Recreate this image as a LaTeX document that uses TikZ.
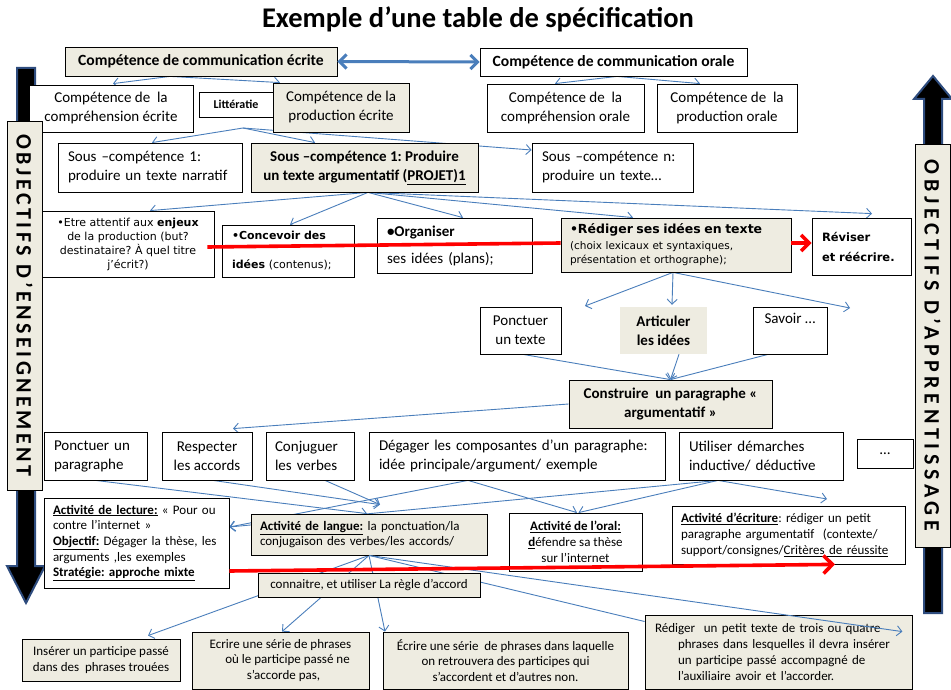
\documentclass[tikz,border=0pt]{standalone}
\usepackage{fontspec}
\setmainfont{Carlito}
\newfontfamily\verd{DejaVu Sans}
\newfontfamily\lblL[LetterSpace=16]{Carlito}
\newfontfamily\lblR[LetterSpace=21]{Carlito}
\usetikzlibrary{arrows.meta}
\definecolor{boxgray}{HTML}{EEECE1}
\definecolor{conblue}{HTML}{4A7EBB}
\definecolor{arredge}{HTML}{2E4C7E}
\definecolor{redline}{HTML}{FF0000}
\pgfdeclarelayer{back}
\pgfdeclarelayer{bg}
\pgfsetlayers{back,bg,main}
\newcommand\szM{\fontsize{15}{19}\selectfont}
\newcommand\szH{\fontsize{15.6}{19}\selectfont}
\newcommand\szS{\fontsize{13}{15.7}\selectfont}
\newcommand\szT{\fontsize{28.5}{32}\selectfont}
\newcommand\szV{\fontsize{11}{14}\selectfont}
\frenchspacing
\tikzset{
  wbox/.style={draw=black, line width=0.8pt, fill=white, inner sep=0pt, align=center, font=\szM},
  gbox/.style={wbox, fill=boxgray},
  lbox/.style={align=left, inner xsep=10pt},
  conn/.style={draw=conblue, line width=0.9pt, -{Straight Barb[length=5pt,width=10pt]}},
  connplain/.style={draw=conblue, line width=0.9pt},
  redln/.style={draw=redline, line width=3.6pt},
  bigarrow/.style={fill=black, draw=arredge, line width=2pt, line join=miter},
  lblbox/.style={draw=black, line width=0.8pt, fill=boxgray, inner sep=0pt}
}
\begin{document}
\begin{tikzpicture}[x=1pt,y=-1pt]
\useasboundingbox (0,0) rectangle (951,690);

% title
\node[font=\szT\bfseries] (title) at (478,19) {Exemple d’une table de spécification};

% top level
\node[gbox, minimum width=272pt, minimum height=29pt, font=\szH\bfseries] (A) at (201,61.5) {Compétence de communication écrite};
\node[wbox, minimum width=267pt, minimum height=28pt, font=\szH\bfseries] (B) at (613.5,62) {Compétence de communication orale};

\node[wbox, minimum width=164pt, minimum height=47pt] (C1) at (111,108.5) {Compétence de~ la\\compréhension écrite};
\node[wbox, minimum width=74pt, minimum height=25pt, font=\fontsize{12}{14}\selectfont\bfseries] (Lit) at (236,104.5) {Littératie};
\node[gbox, minimum width=136pt, minimum height=49pt] (C2) at (341,107.5) {Compétence de la\\production écrite};
\node[wbox, minimum width=157pt, minimum height=48pt] (C3) at (565.5,108) {Compétence de~ la\\compréhension orale};
\node[wbox, minimum width=140pt, minimum height=48pt] (C4) at (727,108) {Compétence de~ la\\production orale};

\node[wbox, lbox, text width=164pt, minimum height=49pt] (S1) at (150,167.5) {Sous –compétence 1:\\produire un texte narratif};
\node[gbox, minimum width=227pt, minimum height=49pt, font=\szM\bfseries] (S2) at (364.5,167.5) {Sous –compétence 1: Produire\\un texte argumentatif (\underline{PROJET)1}};
\node[wbox, lbox, text width=141pt, minimum height=49pt] (Sn) at (612.5,167.5) {Sous –compétence n:\\produire un texte…};

\node[wbox, minimum width=172pt, minimum height=66pt, font=\verd\szV] (E) at (128,244) {•Etre attentif aux \textbf{enjeux}\\de la production (but?\\destinataire? À quel titre\\j’écrit?)};
\node[wbox, lbox, text width=112pt, minimum height=52pt, font=\verd\fontsize{11}{13}\selectfont] (Conc) at (288,251) {\textbf{•Concevoir des}\\[16pt]\textbf{idées} (contenus);};
\node[wbox, lbox, text width=135pt, minimum height=55pt] (Org) at (454.5,245.5) {\textbf{•Organiser}\\[8pt]ses idées (plans);};
\node[gbox, lbox, text width=212pt, inner xsep=9pt, minimum height=54pt, font=\verd\fontsize{10.5}{14}\selectfont] (Red) at (676,245) {{\fontsize{12.5}{15}\selectfont\textbf{•Rédiger ses idées en texte}}\\[2pt](choix lexicaux et syntaxiques,\\présentation et orthographe);};
\node[wbox, lbox, text width=79pt, minimum height=57pt, font=\verd\fontsize{11.5}{20}\selectfont\bfseries] (Rev) at (861.5,246.5) {Réviser\\et réécrire.};

\node[wbox, minimum width=81pt, minimum height=47pt] (PT) at (520.5,330.5) {Ponctuer\\un texte};
\node[fill=boxgray, inner sep=0pt, align=center, minimum width=87pt, minimum height=47pt, font=\szM\bfseries] (Art) at (663.5,330.5) {Articuler\\les idées};
\node[wbox, minimum width=74pt, minimum height=47pt] (Sav) at (790,330.5) {Savoir …\\\strut};

\node[gbox, minimum width=203pt, minimum height=48pt, font=\szM\bfseries] (Cons) at (670.5,404) {Construire~ un paragraphe «\\argumentatif »};

\node[wbox, lbox, text width=83pt, minimum height=48pt] (P1) at (95.5,456) {Ponctuer un\\paragraphe};
\node[wbox, minimum width=90pt, minimum height=48pt] (P2) at (207,456) {Respecter\\les accords};
\node[wbox, lbox, text width=70pt, inner xsep=9pt, minimum height=48pt] (P3) at (310,456) {Conjuguer\\les verbes};
\node[wbox, lbox, text width=276pt, minimum height=48pt] (P4) at (517,456) {Dégager les composantes d’un paragraphe:\\idée principale/argument/ exemple};
\node[wbox, lbox, text width=144pt, minimum height=48pt] (P5) at (761,456) {Utiliser démarches\\inductive/ déductive};
\node[wbox, minimum width=56pt, minimum height=29pt] (P6) at (885,453.5) {…};

\node[wbox, lbox, text width=167pt, inner xsep=9pt, minimum height=90pt, font=\szS] (AL) at (136.5,543) {\underline{\textbf{Activité de lecture:}} « Pour ou\\contre l’internet »\\\underline{\textbf{Objectif:}} Dégager la thèse, les\\arguments ,les exemples\\\underline{\textbf{Stratégie: approche mixte}}};
\node[gbox, lbox, text width=218pt, inner xsep=9pt, minimum height=41pt, font=\szS] (ALa) at (369,534.5) {\underline{\textbf{Activité de langue:}} la ponctuation/la\\conjugaison des verbes/les accords/};
\node[wbox, minimum width=133pt, minimum height=58pt, font=\szS] (AO) at (575.5,542) {\underline{\textbf{Activité de l’oral:}}\\\underline{\textbf{d}}éfendre sa thèse\\sur l’internet};
\node[wbox, lbox, text width=215pt, inner xsep=9pt, minimum height=58pt, font=\szS] (AE) at (788.5,535) {\underline{\textbf{Activité d’écriture}}: rédiger un petit\\paragraphe argumentatif~ (contexte/\\support/consignes/\underline{Critères de réussite}};
\node[gbox, minimum width=222pt, minimum height=24pt, font=\szS] (CR) at (369,585) {connaitre, et utiliser La règle d’accord};

\node[gbox, minimum width=158pt, minimum height=42pt, font=\szS] (B1) at (101,660) {Insérer un participe passé\\dans des~ phrases trouées};
\node[gbox, minimum width=177pt, minimum height=57pt, font=\szS] (B2) at (280.5,660.5) {Ecrire une série de phrases\\\hspace*{14pt}où le participe passé ne\\\hspace*{6pt}s’accorde pas,};
\node[gbox, minimum width=245pt, minimum height=57pt, font=\szS] (B3) at (505.5,660.5) {Écrire une série~ de phrases dans laquelle\\on retrouvera des participes qui\\s’accordent et d’autres non.};
\node[gbox, lbox, text width=247pt, minimum height=74pt, font=\szS] (B4) at (778.5,652) {Rédiger~ un petit texte de trois ou quatre\\\hspace*{23pt}phrases dans lesquelles il devra insérer\\\hspace*{23pt}un participe passé accompagné de\\\hspace*{23pt}l’auxiliaire avoir et l’accorder.};

% side labels
\node[lblbox, rotate=-90, minimum width=369pt, minimum height=35pt, font=\lblL\fontsize{22}{24}\selectfont\bfseries] (labL) at (24.5,305.5) {OBJECTIFS D’ENSEIGNEMENT};
\node[lblbox, rotate=-90, minimum width=403pt, minimum height=35pt, font=\lblR\fontsize{22}{24}\selectfont\bfseries] (labR) at (932.5,345.5) {OBJECTIFS D’APPRENTISSAGE};

% free coordinates
\coordinate (cS) at (243,128);
\coordinate (fPT) at (585,306);
\coordinate (fSav) at (850,308);
\coordinate (fAE) at (827,499);

% big arrows
\begin{pgfonlayer}{back}
\draw[bigarrow] (17,68) -- (35,68) -- (35,566) -- (45,566) -- (26,603) -- (7,566) -- (17,566) -- cycle;
\draw[bigarrow] (924,613) -- (942,613) -- (942,99) -- (952,99) -- (933,76) -- (914,99) -- (924,99) -- cycle;
\end{pgfonlayer}

% blue connectors
\begin{pgfonlayer}{bg}
\draw[conn] ([xshift=-31pt]A.south) -- ([xshift=2pt,yshift=1pt]C1.north);
\draw[conn] ([xshift=-31pt]A.south) -- ([xshift=-61pt]C2.north);
\draw[conn] ([xshift=3.5pt]B.south) -- ([xshift=-10.5pt]C3.north);
\draw[conn] ([xshift=3.5pt]B.south) -- ([xshift=-27pt]C4.north);
\draw[conn] (cS) -- ([xshift=2pt]S1.north);
\draw[conn] (cS) -- ([xshift=-49.5pt]S2.north);
\draw[conn] (cS) -- ([yshift=17.5pt]Sn.west);
\draw[conn] ([xshift=3.5pt]S2.south) -- ([xshift=22pt]E.north);
\draw[conn] ([xshift=3.5pt]S2.south) -- ([xshift=2pt]Conc.north);
\draw[conn] ([xshift=3.5pt]S2.south) -- ([xshift=8.5pt]Org.north);
\draw[conn] ([xshift=3.5pt]S2.south) -- ([xshift=-43pt]Red.north);
\draw[conn] ([xshift=3.5pt]S2.south) -- ([xshift=10.5pt,yshift=4pt]Rev.north);
\draw[conn] ([xshift=-3pt]Red.south) -- (fPT);
\draw[conn] ([xshift=-3pt]Red.south) -- ([xshift=8.5pt,yshift=2pt]Art.north);
\draw[conn] ([xshift=-3pt]Red.south) -- (fSav);
\draw[conn] ([xshift=2.5pt]PT.south) -- (Cons.north);
\draw[conn] ([xshift=15.5pt]Art.south) -- (Cons.north);
\draw[conn] ([xshift=-22pt]Sav.south) -- (Cons.north);
\draw[conn] (Cons.west) -- ([xshift=26pt,yshift=3pt]P2.north);
\draw[conn] (P1.south) -- ([xshift=-2pt]ALa.north);
\draw[conn] ([xshift=6pt]P2.south) -- ([xshift=11pt,yshift=9pt]ALa.north);
\draw[conn] ([xshift=15pt]P3.south) -- ([xshift=11pt,yshift=9pt]ALa.north);
\draw[conn] ([xshift=-49pt]P4.south) -- ([yshift=16pt]AL.east);
\draw[conn] ([xshift=-49pt]P4.south) -- ([xshift=1.5pt]AO.north);
\draw[conn] ([xshift=-43pt]P5.south) -- ([yshift=16pt]AL.east);
\draw[conn] ([xshift=-43pt]P5.south) -- ([xshift=3pt]AO.north);
\draw[conn] ([xshift=-43pt]P5.south) -- (fAE);
\draw[conn] (ALa.south) -- ([xshift=47pt,yshift=3pt]B1.north);
\draw[conn] (ALa.south) -- ([xshift=1.5pt]B2.north);
\draw[conn] (ALa.south) -- ([xshift=-120.5pt]B3.north);
\draw[connplain] (ALa.south) -- ([yshift=30.5pt]B4.west);
\end{pgfonlayer}

% on top
\draw[conn] (ALa.south) -- ([xshift=-10pt,yshift=-17pt]B4.north east);
\draw[draw=conblue, line width=3pt, {Straight Barb[length=7pt,width=14pt]}-{Straight Barb[length=7pt,width=14pt]}] (A.east) -- (B.west);

% red lines
\draw[redln] ([xshift=-7pt,yshift=-3pt]E.east) -- ([yshift=2pt]Red.west);
\draw[redln, -{Straight Barb[length=8pt,width=16pt]}] ([yshift=2pt]Red.east) -- ([yshift=3.5pt]Rev.west);
\draw[redln, -{Straight Barb[length=9pt,width=18pt]}] ([yshift=-28pt]AL.east) -- ([xshift=46.5pt]AE.south);
\end{tikzpicture}
\end{document}
